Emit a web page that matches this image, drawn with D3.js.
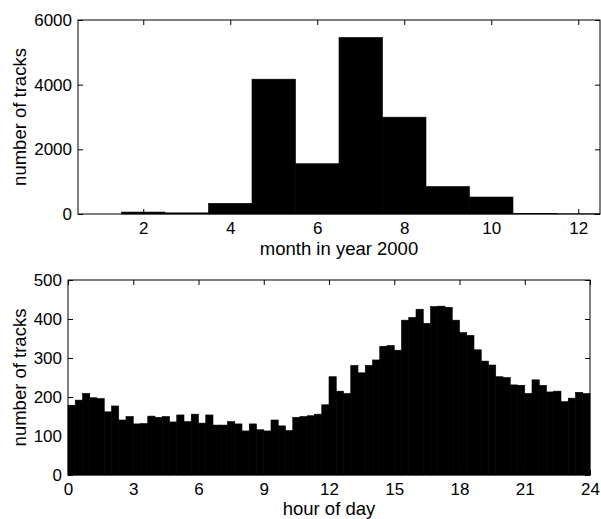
<!DOCTYPE html>
<html><head><meta charset="utf-8">
<script src="https://cdn.jsdelivr.net/npm/d3@7"></script>
<style>
body{margin:0;background:#fff;}
svg{display:block;}
text{font-family:"Liberation Sans",Arial,Helvetica,sans-serif;}
</style></head>
<body><svg id="chart" width="601" height="519"></svg>
<script>
// Top histogram: tracks per month of year 2000
const months = [1,2,3,4,5,6,7,8,9,10,11,12];
const monthCounts = [0,60,35,330,4170,1555,5460,2995,850,525,20,5];
const monthTicks = [2,4,6,8,10,12];
const monthYTicks = [0,2000,4000,6000];

// Bottom histogram: tracks per 20-minute bin of the day (72 bins)
const hourBinWidth = 1/3;
const hourCounts = [
 179,192,209,198,196,162,177,141,150,131,132,151,
 148,150,136,154,137,156,133,154,128,128,137,131,
 113,131,116,113,141,126,114,148,150,152,156,180,
 252,215,209,281,262,281,295,330,332,320,397,404,
 425,389,432,433,430,397,365,358,321,292,282,252,
 250,231,230,209,244,230,213,215,188,197,212,209
];
const hourTicks = [0,3,6,9,12,15,18,21,24];
const hourYTicks = [0,100,200,300,400,500];

const svg = d3.select("#chart");
const FS = 17;   // tick labels
const TS = 18.5; // axis titles

function panel(opts){
  const g = svg.append("g");
  const {x0,x1,y0,y1,xDomain,yDomain,bars,xTicks,yTicks,xLabel,yLabel,xlabDy} = opts;
  const x = d3.scaleLinear().domain(xDomain).range([x0,x1]);
  const y = d3.scaleLinear().domain(yDomain).range([y1,y0]);

  const tick = (ax)=>ax.tickSizeInner(-5).tickSizeOuter(0).tickPadding(8);
  const gb = g.append("g").attr("transform",`translate(0,${y1})`)
    .call(tick(d3.axisBottom(x).tickValues(xTicks).tickFormat(d3.format("d"))));
  const gt = g.append("g").attr("transform",`translate(0,${y0})`)
    .call(tick(d3.axisTop(x).tickValues(xTicks)).tickFormat(""));
  const gl = g.append("g").attr("transform",`translate(${x0},0)`)
    .call(d3.axisLeft(y).tickValues(yTicks).tickFormat(d3.format("d")).tickSizeInner(-5).tickSizeOuter(0).tickPadding(6));
  const gr = g.append("g").attr("transform",`translate(${x1},0)`)
    .call(d3.axisRight(y).tickValues(yTicks).tickFormat("").tickSizeInner(-5).tickSizeOuter(0));
  [gb,gt,gl,gr].forEach(a=>{
    a.select(".domain").remove();
    a.selectAll("line").attr("stroke","#000");
    a.selectAll("text").attr("font-size",FS).attr("fill","#000").attr("font-family","Liberation Sans, Arial, sans-serif");
  });
  gb.selectAll("text").attr("dy","0.71em");

  g.append("g").selectAll("rect").data(bars).join("rect")
    .attr("x",d=>x(d.a)).attr("width",d=>x(d.b)-x(d.a))
    .attr("y",d=>y(d.v)).attr("height",d=>y(0)-y(d.v))
    .attr("fill","#000").attr("stroke","#000").attr("stroke-width",0.6);

  g.append("rect").attr("x",x0).attr("y",y0).attr("width",x1-x0).attr("height",y1-y0)
    .attr("fill","none").attr("stroke","#000").attr("stroke-width",1);

  g.append("text").attr("x",(x0+x1)/2).attr("y",y1+xlabDy).attr("text-anchor","middle")
    .attr("font-size",TS).text(xLabel);
  g.append("text").attr("transform",`translate(26,${(y0+y1)/2}) rotate(-90)`)
    .attr("text-anchor","middle").attr("font-size",TS).text(yLabel);
}

panel({
  x0:78,x1:600,y0:20,y1:214,
  xDomain:[0.5,12.5], yDomain:[0,6000],
  bars: months.map((m,i)=>({a:m-0.5,b:m+0.5,v:monthCounts[i]})),
  xTicks:monthTicks, yTicks:monthYTicks,
  xLabel:"month in year 2000", yLabel:"number of tracks", xlabDy:41
});

panel({
  x0:68,x1:590,y0:280,y1:475,
  xDomain:[0,24], yDomain:[0,500],
  bars: hourCounts.map((v,i)=>({a:i*hourBinWidth,b:(i+1)*hourBinWidth,v:v})),
  xTicks:hourTicks, yTicks:hourYTicks,
  xLabel:"hour of day", yLabel:"number of tracks", xlabDy:40
});
</script></body></html>
